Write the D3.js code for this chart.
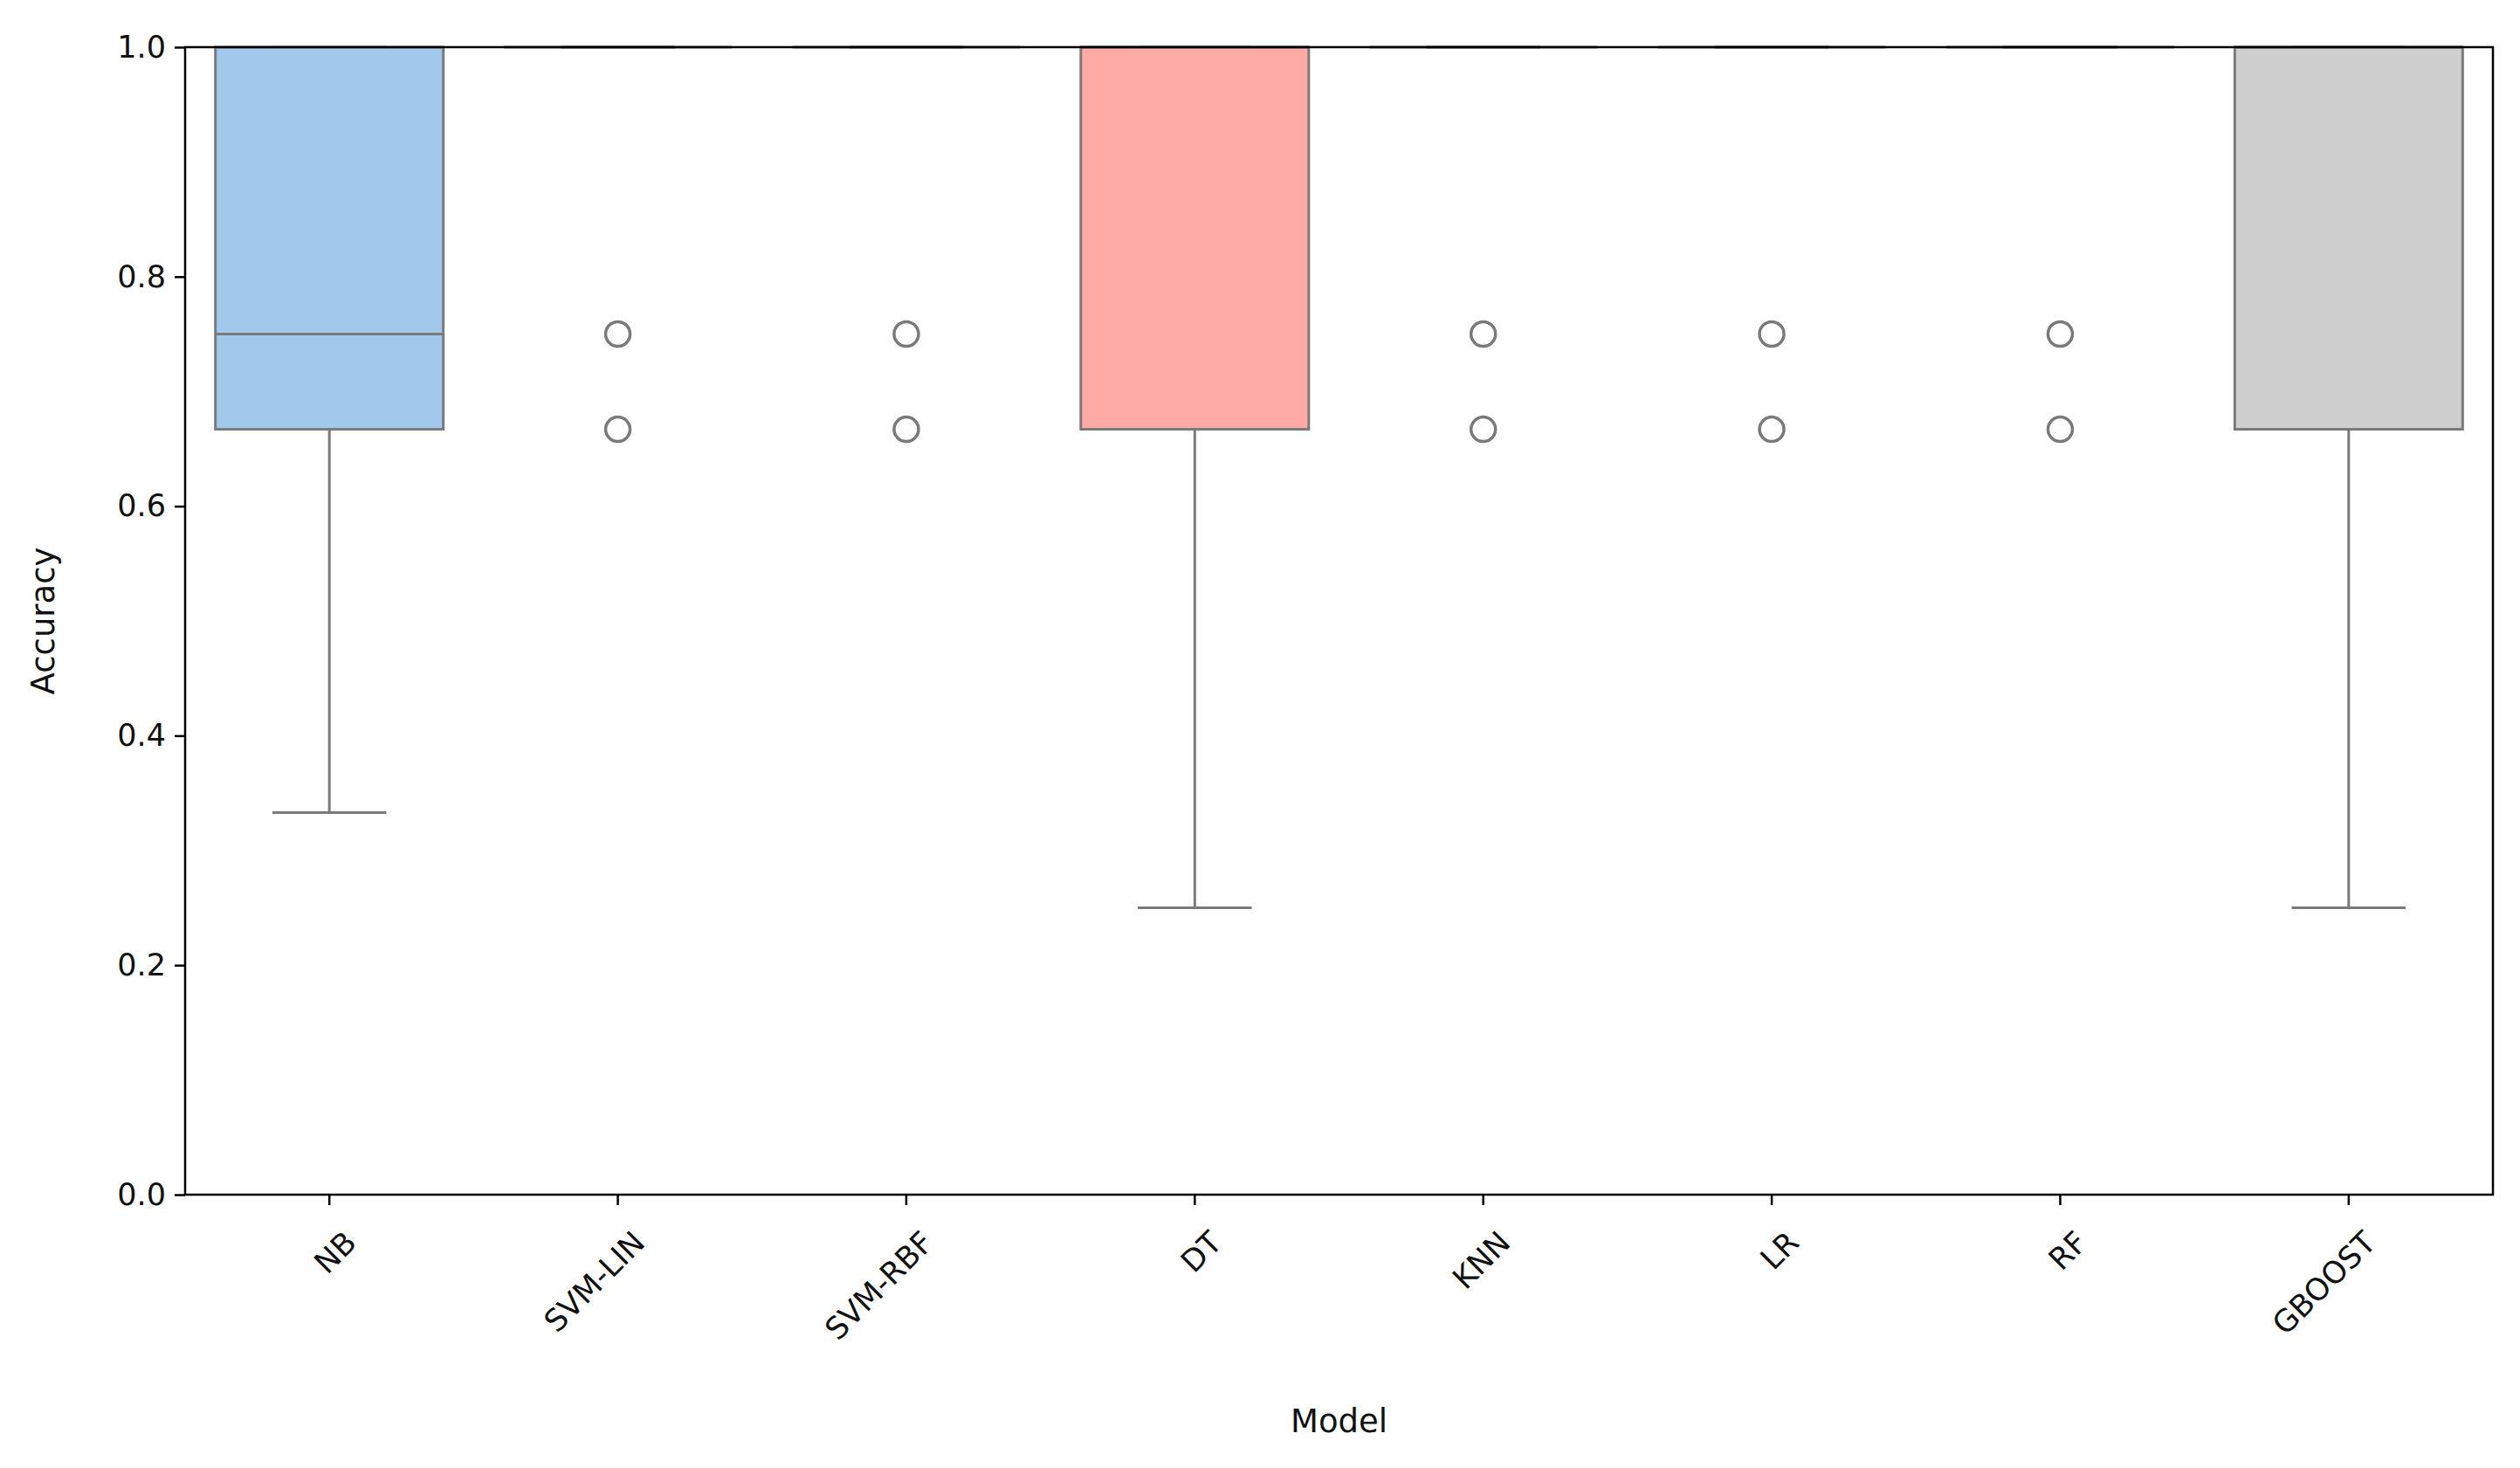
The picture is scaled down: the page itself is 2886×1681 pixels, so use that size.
<!DOCTYPE html>
<html><head><meta charset="utf-8">
<script src="https://cdn.jsdelivr.net/npm/d3@7"></script>
<style>body{margin:0;background:#fff}text{font-family:"DejaVu Sans",sans-serif}</style>
</head><body><svg id="c" width="2886" height="1681"></svg>
<script>
// model names and box statistics
var models = ["NB","SVM-LIN","SVM-RBF","DT","KNN","LR","RF","GBOOST"];
var lowWhisker = [0.333,1,1,0.25,1,1,1,0.25];
var q1 = [0.667,1,1,0.667,1,1,1,0.667];
var median = [0.75,1,1,1,1,1,1,1];
var q3 = [1,1,1,1,1,1,1,1];
var highWhisker = [1,1,1,1,1,1,1,1];
var outliers = [[],[0.75,0.667],[0.75,0.667],[],[0.75,0.667],[0.75,0.667],[0.75,0.667],[]];
var fills = ["#a1c9ec","#8de5a1","#d0bbff","#ffaaa5","#fffea3","#b9f2f0","#fab0e4","#cfcfcf"];
var yTicks = [0,0.2,0.4,0.6,0.8,1.0];

var svg = d3.select("#c");
var pLeft = 212, pRight = 2855, pTop = 54, pBottom = 1368;
var x = d3.scaleBand().domain(models).range([pLeft,pRight]).padding(0);
var y = d3.scaleLinear().domain([0,1]).range([pBottom,pTop]);
var boxW = x.bandwidth()*0.79, capW = boxW/2;
var grey = "#7a7a7a";

models.forEach(function(m,i){
	var cx = x(m)+x.bandwidth()/2;
	var g = svg.append("g");
	//胡须
	g.append("line").attr("x1",cx).attr("x2",cx).attr("y1",y(lowWhisker[i])).attr("y2",y(q1[i]))
		.attr("stroke",grey).attr("stroke-width",3);
	g.append("line").attr("x1",cx).attr("x2",cx).attr("y1",y(highWhisker[i])).attr("y2",y(q3[i]))
		.attr("stroke",grey).attr("stroke-width",3);
	g.append("line").attr("x1",cx-capW/2).attr("x2",cx+capW/2).attr("y1",y(lowWhisker[i])).attr("y2",y(lowWhisker[i]))
		.attr("stroke",grey).attr("stroke-width",3);
	g.append("line").attr("x1",cx-capW/2).attr("x2",cx+capW/2).attr("y1",y(highWhisker[i])).attr("y2",y(highWhisker[i]))
		.attr("stroke",grey).attr("stroke-width",3);
	//箱体
	g.append("rect").attr("x",cx-boxW/2).attr("width",boxW)
		.attr("y",y(q3[i])).attr("height",y(q1[i])-y(q3[i]))
		.attr("fill",fills[i]).attr("stroke",grey).attr("stroke-width",3);
	g.append("line").attr("x1",cx-boxW/2).attr("x2",cx+boxW/2).attr("y1",y(median[i])).attr("y2",y(median[i]))
		.attr("stroke",grey).attr("stroke-width",3);
	g.selectAll("circle").data(outliers[i]).enter().append("circle")
		.attr("cx",cx).attr("cy",function(d){return y(d);}).attr("r",14)
		.attr("fill","none").attr("stroke",grey).attr("stroke-width",3.5);
});

var ya = svg.append("g").attr("transform","translate("+pLeft+",0)")
	.call(d3.axisLeft(y).tickValues(yTicks).tickFormat(d3.format(".1f")).tickSize(12).tickPadding(10));
ya.selectAll("text").attr("font-size",35).attr("fill","#111");
var xa = svg.append("g").attr("transform","translate(0,"+pBottom+")")
	.call(d3.axisBottom(x).tickSize(12).tickPadding(14));
xa.selectAll("text").attr("font-size",35).attr("fill","#111")
	.attr("text-anchor","end").attr("dy","0.35em")
	.attr("transform","translate(6,30) rotate(-45)");
svg.selectAll(".domain").remove();
svg.selectAll(".tick line").attr("stroke","#000").attr("stroke-width",2.5);
// 边框
svg.append("rect").attr("x",pLeft).attr("y",pTop).attr("width",pRight-pLeft).attr("height",pBottom-pTop)
	.attr("fill","none").attr("stroke","#000").attr("stroke-width",2.5);

svg.append("text").attr("x",(pLeft+pRight)/2).attr("y",1640).attr("text-anchor","middle")
	.attr("font-size",37).attr("fill","#111").text("Model");
svg.append("text").attr("transform","translate(62,"+((pTop+pBottom)/2)+") rotate(-90)")
	.attr("text-anchor","middle").attr("font-size",37).attr("fill","#111").text("Accuracy");
</script></body></html>
